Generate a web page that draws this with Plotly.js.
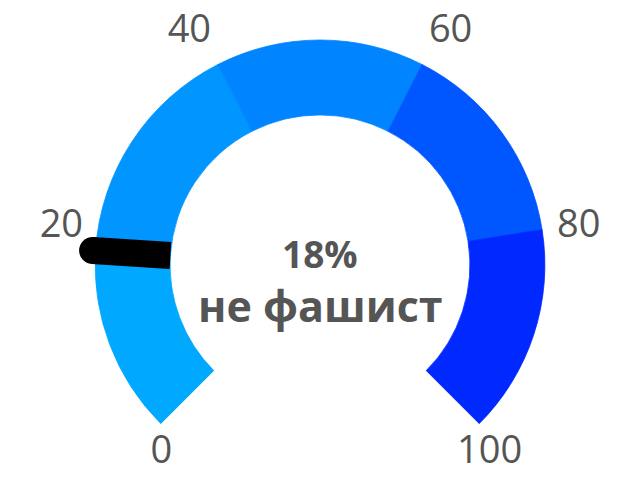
<!DOCTYPE html>
<html>
<head>
<meta charset="utf-8">
<script src="https://cdn.plot.ly/plotly-3.0.1.min.js"></script>
<style>html,body{margin:0;padding:0;background:#fff}</style>
</head>
<body>
<div id="gauge_chart" style="width:640px;height:482px"></div>
<script>
// gauge scale bands and their colours
var bandStarts = [0, 18, 40, 60, 80];
var bandEnds = [18, 40, 60, 80, 100];
var bandColors = ['#00a8ff', '#0095ff', '#0084ff', '#0056ff', '#0028ff'];
var tickValues = [0, 20, 40, 60, 80, 100];
var tickLabels = ['0', '20', '40', '60', '80', '100'];
var gaugeValue = 18;
var valueLabel = '18%';
var captionLabel = 'не фашист';

// scale 0..100 spread over a 270 degree arc.
// with this rotation/sector plotly keeps the angular range at [-360, -90]
var maxValue = 100;
var arcDegrees = 270;
var toDeg = function(v) { return v * arcDegrees / maxValue - 360; };

var innerRadius = 150, outerRadius = 225, labelRadius = 240, axisRadius = 245;

var bands = {
    type: 'barpolar',
    theta: bandStarts.map(function(s, i) { return toDeg((s + bandEnds[i]) / 2); }),
    width: bandStarts.map(function(s, i) { return (bandEnds[i] - s) * arcDegrees / maxValue; }),
    r: bandStarts.map(function() { return outerRadius - innerRadius; }),
    base: innerRadius,
    marker: { color: bandColors, line: { width: 0.8, color: bandColors } },
    hoverinfo: 'skip'
};

// scale labels just outside the arc
var labels = {
    type: 'scatterpolar',
    mode: 'text',
    r: tickValues.map(function() { return labelRadius; }),
    theta: tickValues.map(toDeg),
    text: tickLabels,
    textposition: ['bottom right', 'middle left', 'top left', 'top right', 'middle right', 'bottom center'],
    textfont: { family: 'Open Sans', size: 38, color: '#555' },
    cliponaxis: false,
    hoverinfo: 'skip'
};

// needle: thick line, round end on the outside
var needle = {
    type: 'scatterpolar',
    mode: 'lines+markers',
    r: [innerRadius, outerRadius + 3],
    theta: [toDeg(gaugeValue), toDeg(gaugeValue)],
    line: { color: '#000', width: 27 },
    marker: { color: '#000', size: [0, 27], opacity: 1, line: { width: 0 } },
    cliponaxis: false,
    hoverinfo: 'skip'
};

var textFont = { family: 'Open Sans', color: '#555', weight: 700 };

var layout = {
    width: 640,
    height: 482,
    margin: { l: 75, r: 75, t: 20, b: 44 },
    showlegend: false,
    paper_bgcolor: '#fff',
    polar: {
        sector: [-45, 225],
        bgcolor: 'rgba(0,0,0,0)',
        radialaxis: { range: [0, axisRadius], visible: false, showgrid: false },
        angularaxis: {
            rotation: 225,
            direction: 'clockwise',
            thetaunit: 'degrees',
            showticklabels: false,
            showline: false,
            showgrid: false,
            ticks: ''
        }
    },
    annotations: [
        {
            text: valueLabel, xref: 'paper', yref: 'paper', x: 0.5, y: 0.441, yanchor: 'middle',
            showarrow: false, font: Object.assign({ size: 37 }, textFont)
        },
        {
            text: captionLabel, xref: 'paper', yref: 'paper', x: 0.5, y: 0.318, yanchor: 'middle',
            showarrow: false, font: Object.assign({ size: 43 }, textFont)
        }
    ]
};

Plotly.newPlot('gauge_chart', [bands, needle, labels], layout, { displayModeBar: false, staticPlot: true });
</script>
</body>
</html>
